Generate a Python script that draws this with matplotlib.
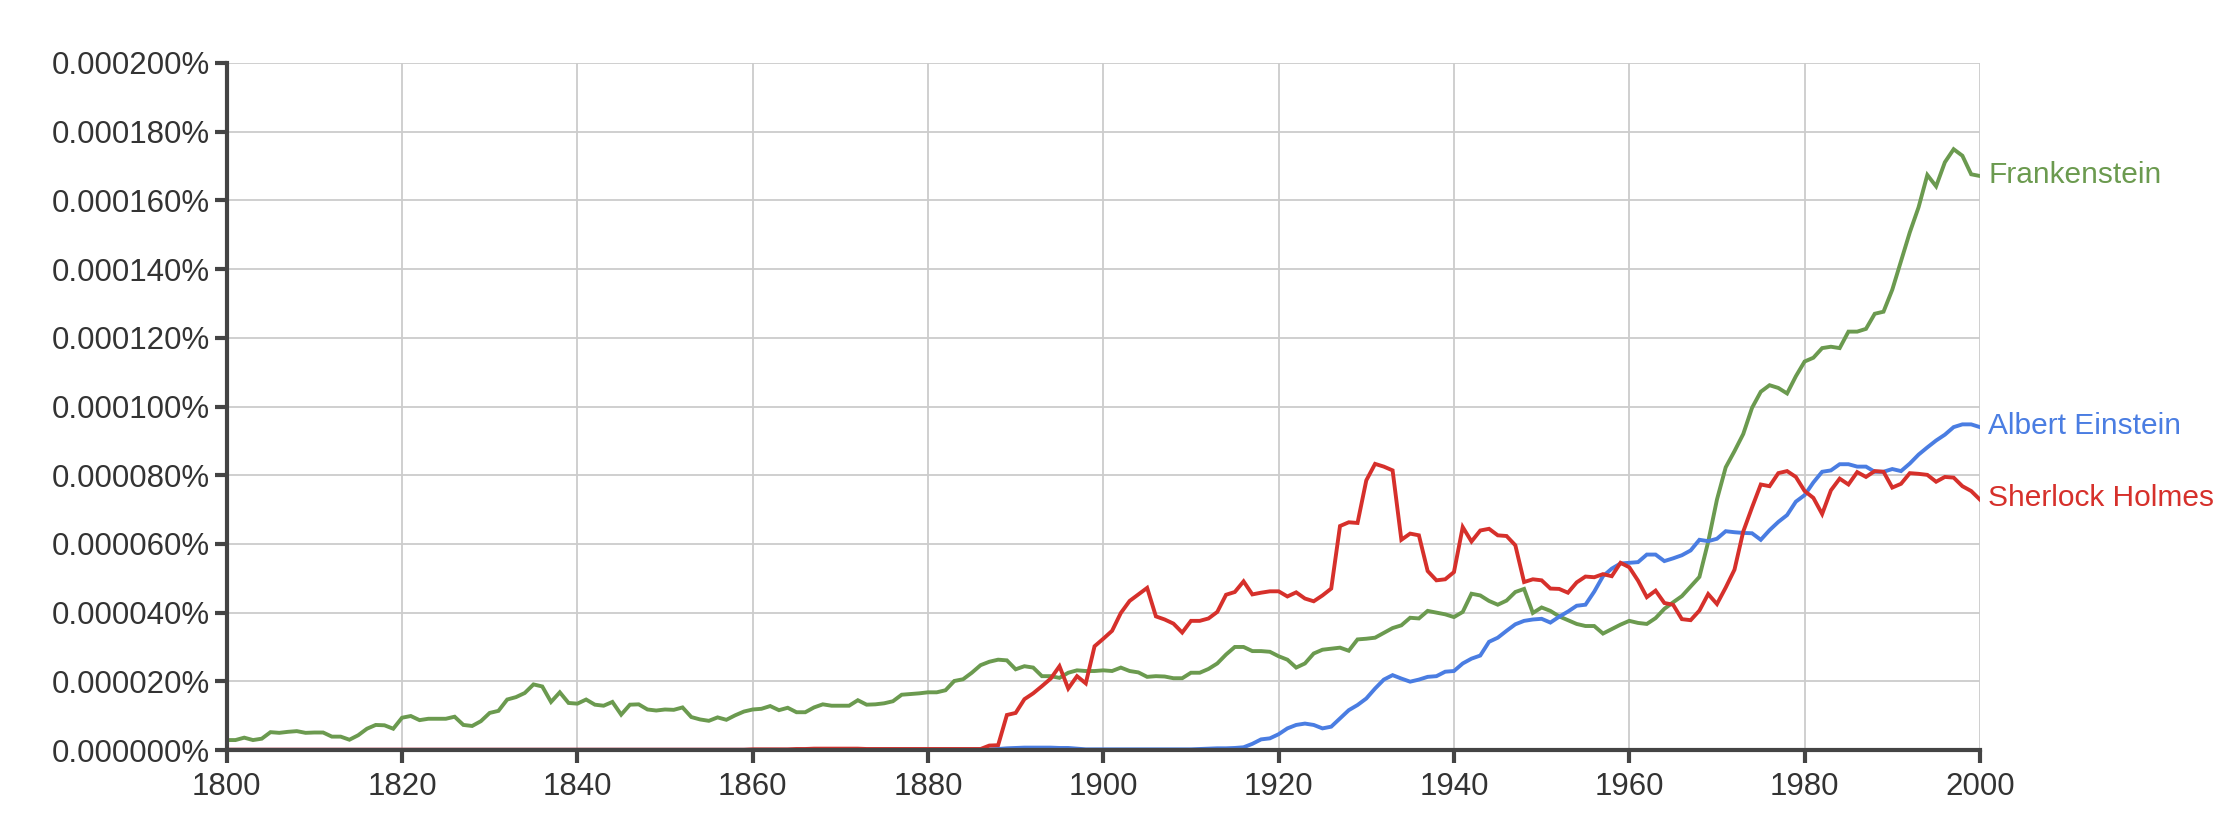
import matplotlib
matplotlib.use("Agg")
import matplotlib.pyplot as plt
from matplotlib.ticker import FuncFormatter, MultipleLocator

plt.rcParams['font.family'] = ['Liberation Sans', 'DejaVu Sans']

# years 1800..2000, values in units of 0.000001 %
years = list(range(1800, 2001))

frankenstein = [
    2.9, 2.9, 3.6, 2.9, 3.3, 5.2, 5.0, 5.3, 5.5, 5.0,
    5.1, 5.1, 3.9, 3.9, 3.0, 4.3, 6.2, 7.3, 7.2, 6.2,
    9.4, 9.9, 8.7, 9.1, 9.1, 9.1, 9.7, 7.3, 7.0, 8.4,
    10.8, 11.4, 14.7, 15.4, 16.6, 19.1, 18.5, 14.0, 16.8, 13.7,
    13.5, 14.7, 13.2, 12.9, 14.0, 10.3, 13.2, 13.3, 11.8, 11.5,
    11.8, 11.7, 12.4, 9.6, 8.9, 8.5, 9.5, 8.8, 10.1, 11.2,
    11.8, 12.0, 12.8, 11.6, 12.3, 11.0, 11.0, 12.4, 13.3, 12.9,
    12.9, 12.9, 14.5, 13.2, 13.3, 13.6, 14.2, 16.1, 16.3, 16.5,
    16.8, 16.8, 17.4, 20.1, 20.6, 22.5, 24.7, 25.7, 26.3, 26.1,
    23.5, 24.4, 24.0, 21.5, 21.5, 21.0, 22.5, 23.2, 23.0, 23.0,
    23.2, 23.0, 24.0, 23.0, 22.6, 21.3, 21.5, 21.4, 20.9, 20.9,
    22.5, 22.5, 23.6, 25.2, 27.8, 30.0, 30.0, 28.8, 28.8, 28.6,
    27.3, 26.3, 24.0, 25.2, 28.1, 29.2, 29.5, 29.8, 28.9, 32.2,
    32.4, 32.7, 34.1, 35.5, 36.3, 38.5, 38.3, 40.5, 40.0, 39.5,
    38.7, 40.2, 45.5, 45.0, 43.4, 42.3, 43.5, 46.0, 46.9, 39.9,
    41.5, 40.5, 38.9, 37.8, 36.7, 36.1, 36.1, 33.9, 35.2, 36.5,
    37.6, 37.0, 36.7, 38.4, 41.1, 43.0, 44.8, 47.6, 50.4, 60.6,
    72.9, 82.3, 87.0, 92.0, 99.6, 104.3, 106.2, 105.4, 103.8, 108.8,
    113.1, 114.2, 117.0, 117.4, 117.0, 121.8, 121.8, 122.6, 127.0, 127.6,
    134.0, 142.4, 150.7, 158.0, 167.4, 164.1, 171.1, 174.9, 173.0, 167.6,
    167.1,
]

einstein = [
    0.05, 0.05, 0.05, 0.05, 0.05, 0.05, 0.05, 0.05, 0.05, 0.05,
    0.05, 0.05, 0.05, 0.05, 0.05, 0.05, 0.05, 0.05, 0.05, 0.05,
    0.05, 0.05, 0.05, 0.05, 0.05, 0.05, 0.05, 0.05, 0.05, 0.05,
    0.05, 0.05, 0.05, 0.05, 0.05, 0.05, 0.05, 0.05, 0.05, 0.05,
    0.05, 0.05, 0.05, 0.05, 0.05, 0.05, 0.05, 0.05, 0.05, 0.05,
    0.05, 0.05, 0.05, 0.05, 0.05, 0.05, 0.05, 0.05, 0.05, 0.05,
    0.05, 0.05, 0.05, 0.05, 0.05, 0.05, 0.05, 0.05, 0.05, 0.05,
    0.05, 0.05, 0.05, 0.05, 0.05, 0.05, 0.05, 0.05, 0.05, 0.05,
    0.05, 0.05, 0.05, 0.05, 0.05, 0.05, 0.1, 0.2, 0.3, 0.5,
    0.6, 0.7, 0.7, 0.7, 0.7, 0.6, 0.6, 0.4, 0.2, 0.2,
    0.2, 0.2, 0.2, 0.2, 0.2, 0.2, 0.2, 0.2, 0.2, 0.2,
    0.2, 0.3, 0.4, 0.5, 0.5, 0.6, 0.8, 1.8, 3.1, 3.4,
    4.6, 6.3, 7.3, 7.7, 7.3, 6.3, 6.8, 9.2, 11.6, 13.1,
    15.0, 17.9, 20.5, 21.8, 20.8, 19.9, 20.5, 21.3, 21.5, 22.8,
    23.0, 25.2, 26.6, 27.5, 31.5, 32.7, 34.7, 36.6, 37.6, 38.0,
    38.2, 37.1, 38.8, 40.3, 42.0, 42.3, 46.1, 50.6, 52.8, 54.3,
    54.5, 54.7, 56.9, 56.9, 55.0, 55.8, 56.7, 58.1, 61.2, 60.8,
    61.5, 63.7, 63.4, 63.2, 63.1, 61.2, 64.0, 66.4, 68.4, 72.3,
    74.2, 77.9, 81.0, 81.4, 83.2, 83.2, 82.5, 82.5, 81.0, 81.0,
    81.8, 81.2, 83.4, 86.0, 88.1, 90.1, 91.8, 94.0, 94.8, 94.8,
    94.0,
]

holmes = [
    0.1, 0.1, 0.1, 0.1, 0.1, 0.1, 0.1, 0.1, 0.1, 0.1,
    0.1, 0.1, 0.1, 0.1, 0.1, 0.1, 0.1, 0.1, 0.1, 0.1,
    0.1, 0.1, 0.1, 0.1, 0.1, 0.1, 0.1, 0.1, 0.1, 0.1,
    0.1, 0.1, 0.1, 0.1, 0.1, 0.1, 0.1, 0.1, 0.1, 0.1,
    0.1, 0.1, 0.1, 0.1, 0.1, 0.1, 0.1, 0.1, 0.1, 0.1,
    0.1, 0.1, 0.1, 0.1, 0.1, 0.1, 0.1, 0.1, 0.1, 0.1,
    0.2, 0.2, 0.2, 0.2, 0.2, 0.3, 0.3, 0.4, 0.4, 0.4,
    0.4, 0.4, 0.4, 0.3, 0.3, 0.3, 0.3, 0.3, 0.3, 0.3,
    0.3, 0.3, 0.3, 0.3, 0.3, 0.3, 0.3, 1.3, 1.4, 10.2,
    10.8, 14.8, 16.5, 18.6, 20.8, 24.4, 17.9, 21.5, 19.4, 30.2,
    32.4, 34.7, 39.9, 43.4, 45.3, 47.2, 38.9, 38.0, 36.8, 34.2,
    37.6, 37.6, 38.3, 40.2, 45.2, 46.0, 49.1, 45.3, 45.8, 46.2,
    46.2, 44.7, 45.9, 44.1, 43.3, 45.0, 47.0, 65.2, 66.3, 66.1,
    78.5, 83.3, 82.5, 81.4, 61.2, 63.0, 62.5, 52.1, 49.4, 49.7,
    51.8, 64.9, 60.7, 63.9, 64.4, 62.5, 62.3, 59.6, 48.9, 49.7,
    49.4, 47.0, 46.9, 45.8, 48.8, 50.5, 50.3, 51.2, 50.6, 54.5,
    53.2, 49.3, 44.5, 46.4, 42.8, 42.3, 38.1, 37.8, 40.6, 45.4,
    42.5, 47.3, 52.5, 63.6, 70.6, 77.3, 76.8, 80.6, 81.2, 79.5,
    75.4, 73.4, 68.7, 75.6, 79.0, 77.3, 80.9, 79.5, 81.2, 81.0,
    76.4, 77.5, 80.6, 80.4, 80.1, 78.1, 79.5, 79.3, 76.8, 75.4,
    72.9,
]

names = ["Frankenstein", "Albert Einstein", "Sherlock Holmes"]
colors = ["#6b9a4f", "#4a7de2", "#d6302b"]
series = [frankenstein, einstein, holmes]

fig = plt.figure(figsize=(22.4, 8.18), dpi=100)
ax = fig.add_axes([0.1012, 0.0831, 0.7827, 0.8399])

for vals, c in zip(series, colors):
    ax.plot(years, vals, color=c, lw=2.8, solid_joinstyle="miter", zorder=3)

# labels at the end of each line
for name, vals, c in zip(names, series, colors):
    ax.annotate(name, xy=(years[-1], vals[-1]), xytext=(6, 1),
                textcoords="offset points", color=c, fontsize=21.5,
                va="center", ha="left", annotation_clip=False)

ax.set_xlim(1800, 2000)
ax.set_ylim(0, 200)
ax.xaxis.set_major_locator(MultipleLocator(20))
ax.yaxis.set_major_locator(MultipleLocator(20))
ax.yaxis.set_major_formatter(FuncFormatter(lambda v, p: f"{v / 1e6:.6f}%"))

ax.grid(True, color="#cccccc", lw=1.3, zorder=0)
ax.set_axisbelow(True)
for s in ["top", "right"]:
    ax.spines[s].set_visible(False)
for s in ["left", "bottom"]:
    ax.spines[s].set_color("#444444")
    ax.spines[s].set_linewidth(3)
    ax.spines[s].set_zorder(4)
ax.tick_params(length=9, width=3, color="#444444", labelsize=22.5,
               labelcolor="#333333")
ax.tick_params(axis="y", pad=3)
ax.tick_params(axis="x", pad=7)

fig.savefig("out.png", dpi=100)
